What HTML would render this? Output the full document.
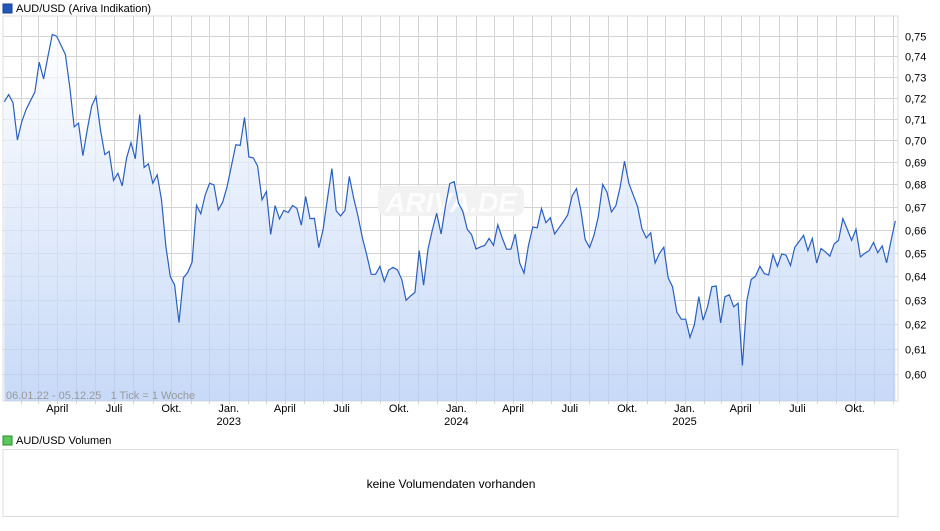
<!DOCTYPE html>
<html><head><meta charset="utf-8"><style>
body{margin:0;background:#fff;font-family:"Liberation Sans",sans-serif;}
svg text{font-family:"Liberation Sans",sans-serif;}
</style></head><body>
<svg id="c" width="940" height="526" xmlns="http://www.w3.org/2000/svg">
<defs><linearGradient id="g" x1="0" y1="0" x2="0" y2="1"><stop offset="0" stop-color="#ffffff"/><stop offset="1" stop-color="#b5cdf5"/></linearGradient></defs>
<rect x="3" y="4" width="9" height="9" fill="#2458b8" stroke="#1a3f8a"/>
<text x="16" y="12" font-size="11" fill="#000">AUD/USD (Ariva Indikation)</text>
<g id="grid"></g>
<g id="plot"></g>
<g id="yax"></g>
<g id="xax"></g>
<text x="6" y="399" font-size="11" fill="#999" xml:space="preserve" style="white-space:pre">06.01.22 - 05.12.25   1 Tick = 1 Woche</text>
<rect x="3" y="436" width="9" height="9" fill="#5cc85c" stroke="#2a8a2a"/>
<text x="16" y="444" font-size="11" fill="#000">AUD/USD Volumen</text>
<rect x="3" y="449.5" width="895" height="67" fill="#fff" stroke="#ddd"/>
<text x="451" y="488" font-size="12" text-anchor="middle" fill="#000">keine Volumendaten vorhanden</text>
</svg>
<script>
const values=[0.7181,0.7215,0.7176,0.7002,0.7088,0.7144,0.7186,0.7228,0.7371,0.7290,0.7401,0.7507,0.7498,0.7453,0.7408,0.7250,0.7063,0.7080,0.6930,0.7051,0.7161,0.7206,0.7051,0.6935,0.6950,0.6818,0.6850,0.6793,0.6920,0.6990,0.6916,0.7120,0.6876,0.6893,0.6805,0.6843,0.6731,0.6527,0.6398,0.6364,0.6207,0.6393,0.6416,0.6460,0.6707,0.6669,0.6753,0.6805,0.6798,0.6687,0.6721,0.6790,0.6883,0.6980,0.6977,0.7107,0.6924,0.6920,0.6883,0.6731,0.6768,0.6579,0.6706,0.6647,0.6684,0.6675,0.6706,0.6693,0.6619,0.6746,0.6648,0.6649,0.6522,
0.6601,0.6738,0.6871,0.6682,0.6660,0.6684,0.6836,0.6738,0.6657,0.6564,0.6490,0.6408,0.6408,0.6442,0.6378,0.6426,0.6438,0.6427,0.6386,0.6299,0.6317,0.6332,0.6509,0.6362,0.6515,0.6598,0.6672,0.6581,0.6701,0.6804,0.6812,0.6716,0.6679,0.6601,0.6578,0.6516,0.6525,0.6531,0.6562,0.6532,0.6621,0.6564,0.6515,0.6515,0.6580,0.6456,0.6413,0.6530,0.6612,0.6608,0.6692,0.6630,0.6652,0.6581,0.6608,0.6635,0.6664,0.6748,0.6781,0.6686,0.6556,0.6522,0.6574,0.6657,0.6800,0.6765,0.6677,0.6704,0.6787,
0.6905,0.6804,0.6753,0.6701,0.6603,0.6564,0.6586,0.6456,0.6497,0.6524,0.6393,0.6356,0.6250,0.6221,0.6221,0.6147,0.6199,0.6314,0.6217,0.6272,0.6356,0.6359,0.6206,0.6314,0.6322,0.6272,0.6287,0.6034,0.6297,0.6386,0.6400,0.6442,0.6411,0.6405,0.6493,0.6442,0.6494,0.6490,0.6445,0.6524,0.6549,0.6575,0.6509,0.6562,0.6456,0.6518,0.6504,0.6485,0.6538,0.6553,0.6648,0.6601,0.6553,0.6601,0.6482,0.6497,0.6509,0.6544,0.6500,0.6530,0.6457,0.6549,0.6638];
const yTicks=[0.60,0.61,0.62,0.63,0.64,0.65,0.66,0.67,0.68,0.69,0.70,0.71,0.72,0.73,0.74,0.75];
const xLabels=["April","Juli","Okt.","Jan.","April","Juli","Okt.","Jan.","April","Juli","Okt.","Jan.","April","Juli","Okt."];
const xLabelDates=["2022-04-01","2022-07-01","2022-10-01","2023-01-01","2023-04-01","2023-07-01","2023-10-01","2024-01-01","2024-04-01","2024-07-01","2024-10-01","2025-01-01","2025-04-01","2025-07-01","2025-10-01"];
const yearLabels=["","","","2023","","","","2024","","","","2025","","",""];
const startDate="2022-01-06", endDate="2025-12-05";
const NS="http://www.w3.org/2000/svg";
const L=3,R=898,T=16,B=401,X0=4.3,X1=895.3;
const t0=Date.parse(startDate),t1=Date.parse(endDate);
function xDate(d){return X0+(Date.parse(d)-t0)/(t1-t0)*(X1-X0);}
function xIdx(i){return X0+i*(X1-X0)/(values.length-1);}
function y(v){return 374-1515*Math.log(v/0.60);}
function mk(tag,attrs,parent){const e=document.createElementNS(NS,tag);for(const k in attrs)e.setAttribute(k,attrs[k]);parent.appendChild(e);return e;}
const grid=document.getElementById('grid'),plot=document.getElementById('plot'),yax=document.getElementById('yax'),xax=document.getElementById('xax');
mk('rect',{x:L,y:T,width:R-L,height:B-T,fill:'#fff',stroke:'#ddd'},grid);
yTicks.forEach(v=>{const yy=Math.round(y(v))+0.5;
 const ln=mk('line',{x1:L,x2:R,y1:yy,y2:yy,stroke:'#d4d4d4'},grid);
 
 
 const t=mk('text',{x:905,y:yy+4,'font-size':11,fill:'#000'},yax);
 t.textContent=v.toFixed(2).replace('.',',');
 
 
});
for(let yr=2022;yr<=2025;yr++)for(let m=1;m<=12;m++){const d=yr+'-'+String(m).padStart(2,'0')+'-01';
 const xx=Math.round(xDate(d))+0.5; if(xx<=L||xx>=R)continue;
 const ln=mk('line',{x1:xx,x2:xx,y1:T,y2:B+3,stroke:'#d4d4d4'},grid);
 
 }
const wb=mk('rect',{x:378,y:186,width:146,height:30,rx:8,fill:'#f2f2f2'},grid);


let d='M'+xIdx(0)+','+B;
values.forEach((v,i)=>{d+=' L'+xIdx(i).toFixed(1)+','+y(v).toFixed(1);});
d+=' L'+xIdx(values.length-1)+','+B+' Z';
const area=mk('path',{d:d,fill:'url(#g)','fill-opacity':0.75},plot);


const wm=mk('text',{x:451,y:212,'font-size':28,'font-style':'italic','font-weight':'bold',fill:'#fff','text-anchor':'middle','fill-opacity':0.8},plot);
wm.textContent='ARIVA.DE';


let ld='';values.forEach((v,i)=>{ld+=(i?' L':'M')+xIdx(i).toFixed(1)+','+y(v).toFixed(1);});
const line=mk('path',{d:ld,fill:'none',stroke:'#2a5fc0','stroke-width':1.2},plot);


xLabels.forEach((lab,i)=>{const xx=xDate(xLabelDates[i]);
 const t=mk('text',{x:xx,y:412,'font-size':11,'text-anchor':'middle',fill:'#000'},xax);
 t.textContent=lab;
 
 
 if(yearLabels[i]){const t2=mk('text',{x:xx,y:425,'font-size':11,'text-anchor':'middle',fill:'#000'},xax);
 t2.textContent=yearLabels[i];
 
 }
});
</script>
</body></html>
